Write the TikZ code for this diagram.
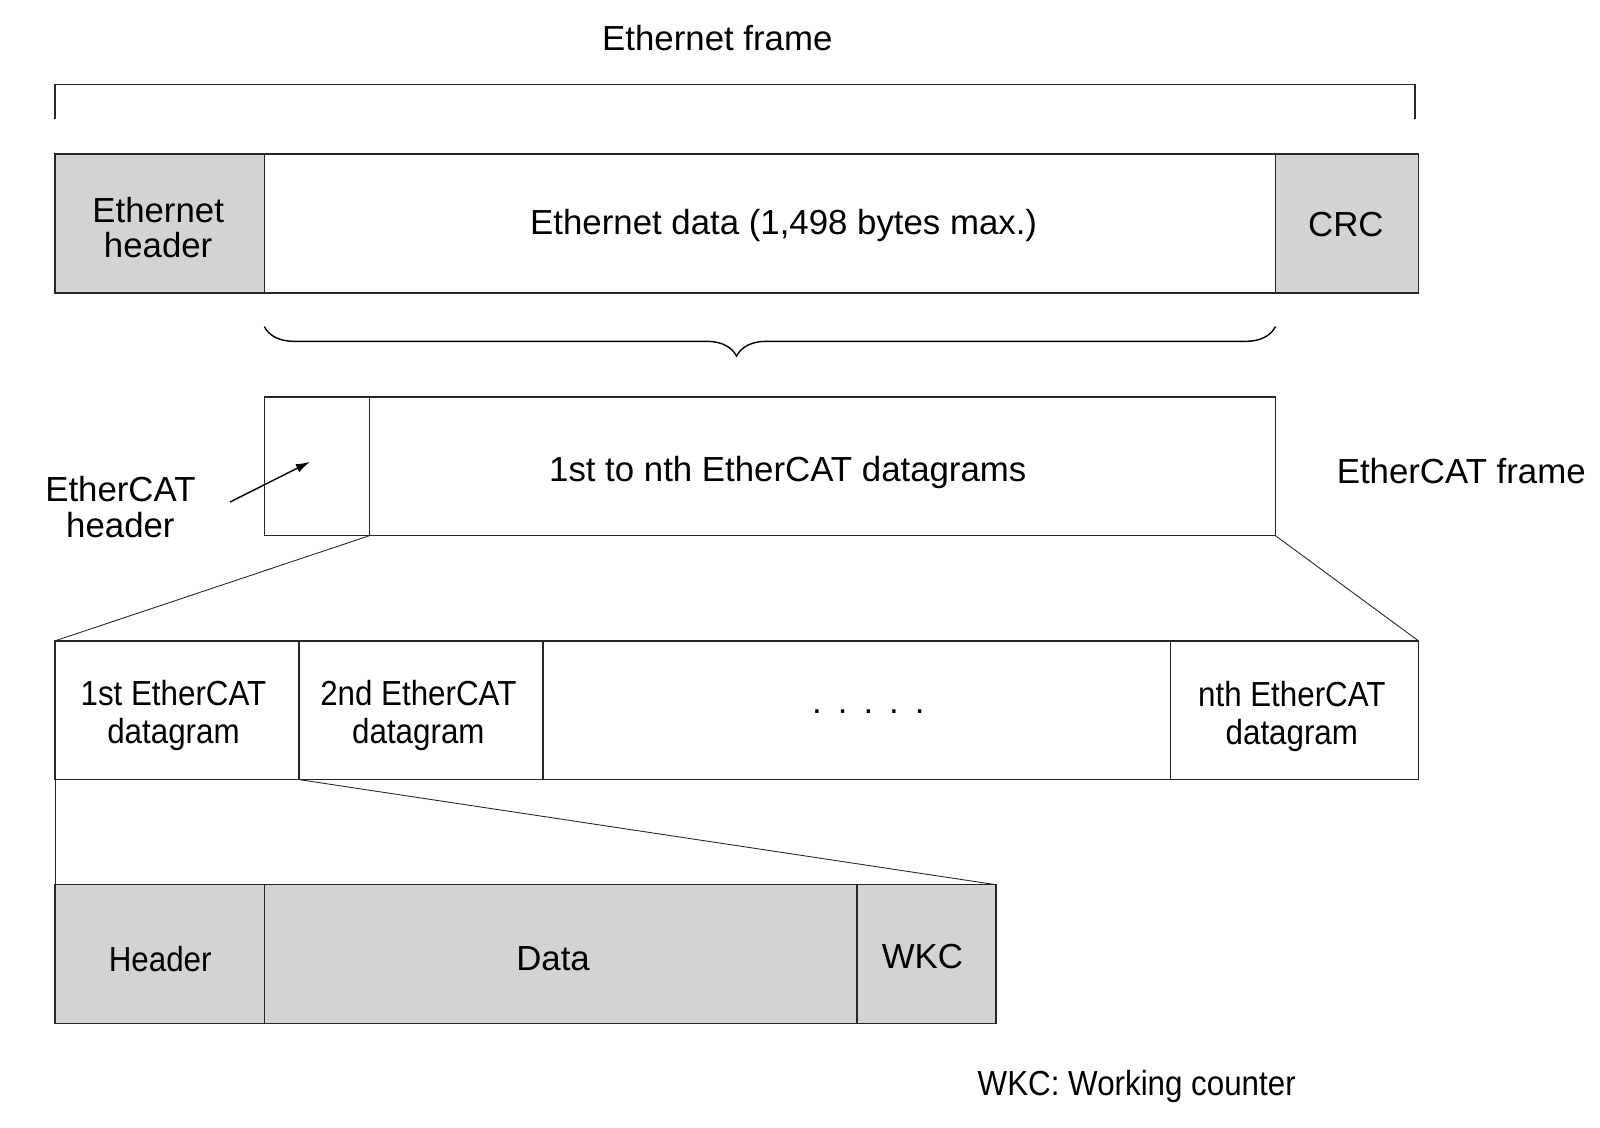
\documentclass[tikz,border=0pt]{standalone}
\usepackage{fontspec}
\setmainfont{Liberation Sans}
\newfontfamily\condfont[FakeStretch=0.9]{Liberation Sans}
\usepackage{xcolor}
\usetikzlibrary{positioning}
\usetikzlibrary{decorations.pathreplacing}
\usetikzlibrary{arrows.meta}
\definecolor{cellgray}{RGB}{209,211,212}
\def\unitpx{0.0204cm}
\tikzset{
  txt/.style={font=\fontsize{19.8}{20.3}\selectfont, align=center, inner sep=0pt},
  condtxt/.style={font=\condfont\fontsize{19.8}{21.4}\selectfont, align=center, inner sep=0pt},
  cell/.style={draw=black!85, line width=0.8pt, anchor=north west, inner sep=0pt, outer sep=0pt, minimum height=136*\unitpx},
  graycell/.style={cell, fill=cellgray},
  zoomline/.style={line width=0.5pt, black!85},
  brc/.style={decorate, decoration={brace, mirror, amplitude=29*\unitpx, aspect=0.467}, line width=0.8pt}
}
\begin{document}
\begin{tikzpicture}[x=0.0204cm, y=-0.0204cm]
  \useasboundingbox (0,0) rectangle (1568,1104.5);
  % Ethernet frame
  \node[txt] (ethlbl) at (703,37) {Ethernet frame};
  \draw[line width=0.8pt, black!85] (54,117) -- (54,83) -- (1386.5,83) -- (1386.5,117);
  \node[graycell, minimum width=205*\unitpx] (ehdr) at (54,151) {};
  \node[cell, minimum width=991*\unitpx] (edata) at (ehdr.north east) {};
  \node[graycell, minimum width=140*\unitpx] (crc) at (edata.north east) {};
  \node[txt] (ehdrlbl) at (155,223) {Ethernet\\header};
  \node[txt] (edatalbl) at (768,221) {Ethernet data (1,498 bytes max.)};
  \node[txt] (crclbl) at (1319,220) {CRC};
  \draw[brc] ([yshift=-33*\unitpx]edata.south west) -- ([yshift=-33*\unitpx]edata.south east);
  % EtherCAT frame
  \node[cell, minimum width=103*\unitpx] (chdr) at (259,389) {};
  \node[cell, minimum width=888*\unitpx] (cdata) at (chdr.north east) {};
  \node[txt] (cdatalbl) at (772,463) {1st to nth EtherCAT datagrams};
  \node[txt] (cframelbl) at (1432,462) {EtherCAT frame};
  \node[txt] (chdrlbl) at (118,497) {EtherCAT\\header};
  \coordinate (arrstart) at (225.4,492);
  \coordinate (arrtip) at (303.8,452.6);
  \draw[-{Latex[length=8pt,width=5pt]}, line width=0.8pt] (arrstart) -- (arrtip);
  % datagrams
  \node[cell, minimum width=239*\unitpx] (dg1) at (54,628) {};
  \node[cell, minimum width=239*\unitpx] (dg2) at (dg1.north east) {};
  \node[cell, minimum width=615*\unitpx] (dgdots) at (dg2.north east) {};
  \node[cell, minimum width=243*\unitpx] (dgn) at (dgdots.north east) {};
  \node[condtxt] (dg1lbl) at (170,701) {1st EtherCAT\\datagram};
  \node[condtxt] (dg2lbl) at (410,701) {2nd EtherCAT\\datagram};
  \node[condtxt] (dgnlbl) at (1266,702) {nth EtherCAT\\datagram};
  \node[txt] (dotslbl) at (851,697) {.\hspace{9.1pt}.\hspace{9.1pt}.\hspace{9.1pt}.\hspace{9.1pt}.};
  \draw[zoomline] (chdr.south east) -- (dg1.north west);
  \draw[zoomline] (cdata.south east) -- (dgn.north east);
  % one datagram
  \node[graycell, minimum width=205*\unitpx] (dhdr) at (54,867) {};
  \node[graycell, minimum width=581*\unitpx] (ddata) at (dhdr.north east) {};
  \node[graycell, minimum width=136*\unitpx] (wkc) at (ddata.north east) {};
  \node[condtxt] (dhdrlbl) at (157,940) {Header};
  \node[txt] (ddatalbl) at (542,940) {Data};
  \node[txt] (wkclbl) at (904,937) {WKC};
  \draw[zoomline] (dg1.south west) -- (dhdr.north west);
  \draw[zoomline] (dg1.south east) -- (wkc.north east);
  \node[condtxt] (notelbl) at (1114,1065) {WKC: Working counter};
\end{tikzpicture}
\end{document}
